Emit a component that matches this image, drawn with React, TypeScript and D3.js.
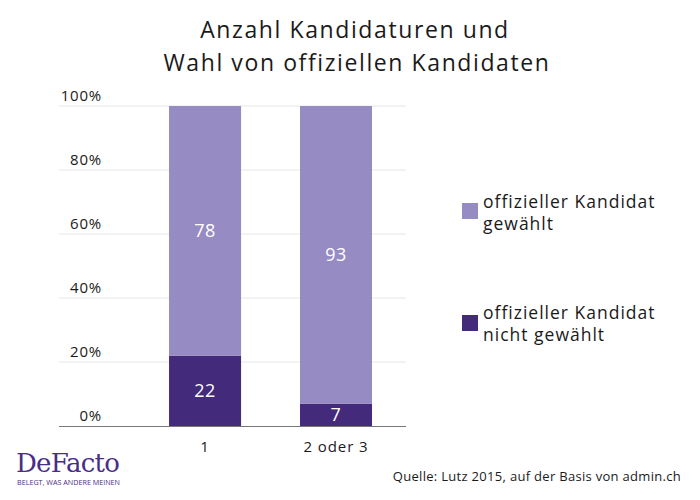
import React from "react";
import * as d3 from "d3";

const categories = ["1", "2 oder 3"];
const notElected = [22, 7];
const elected = [78, 93];
const seriesNames = ["offizieller Kandidat gewählt", "offizieller Kandidat nicht gewählt"];
const yTicks = [0, 20, 40, 60, 80, 100];

const W = 700;
const H = 500;
const LIGHT = "#968bc2";
const DARK = "#432a7a";
const FONT = "'Open Sans', 'Noto Sans', sans-serif";

export default function App() {
  const x = d3
    .scaleBand<string>()
    .domain(categories)
    .range([59, 406])
    .paddingInner(0.45)
    .paddingOuter(0.55)
    .align(0.764);
  const y = d3.scaleLinear().domain([0, 100]).range([426, 106]);

  const rows = categories.map((c, i) => ({ cat: c, low: notElected[i], high: elected[i] }));
  const stack = d3.stack<any>().keys(["low", "high"])(rows as any);

  return (
    <svg width={W} height={H} style={{ position: "absolute", left: 0, top: 0, background: "#fff" }}>
      <g fontFamily={FONT}>
        <text x={355} y={38} textAnchor="middle" fontSize={23} letterSpacing={1.6} fill="#1a1a1a">
          Anzahl Kandidaturen und
        </text>
        <text x={357} y={71} textAnchor="middle" fontSize={23} letterSpacing={1.6} fill="#1a1a1a">
          Wahl von offiziellen Kandidaten
        </text>

        {yTicks.map((t) => (
          <g key={t}>
            {t > 0 && (
              <line x1={59} x2={406} y1={y(t)} y2={y(t)} stroke="#e6e6e6" strokeWidth={1} />
            )}
            <text x={102} y={y(t) - 5} textAnchor="end" fontSize={15} letterSpacing={0.8} fill="#1a1a1a">
              {t}%
            </text>
          </g>
        ))}

        {stack.map((layer, li) =>
          layer.map((d, i) => {
            const cat = categories[i];
            const val = d[1] - d[0];
            return (
              <g key={`${li}-${i}`}>
                <rect
                  x={x(cat)}
                  width={x.bandwidth()}
                  y={y(d[1])}
                  height={y(d[0]) - y(d[1])}
                  fill={li === 0 ? DARK : LIGHT}
                />
                <text
                  x={(x(cat) as number) + x.bandwidth() / 2}
                  y={(y(d[0]) + y(d[1])) / 2}
                  dy="0.35em"
                  textAnchor="middle"
                  fontSize={18}
                  letterSpacing={0.5}
                  fill="#fff"
                >
                  {val}
                </text>
              </g>
            );
          })
        )}

        <line x1={59} x2={406} y1={426.5} y2={426.5} stroke="#777" strokeWidth={1} />

        {categories.map((c) => (
          <text
            key={c}
            x={(x(c) as number) + x.bandwidth() / 2}
            y={452}
            textAnchor="middle"
            fontSize={15}
            letterSpacing={0.9}
            fill="#1a1a1a"
          >
            {c}
          </text>
        ))}

        {/* Legend */}
        <rect x={462} y={203} width={16} height={16} fill={LIGHT} />
        <text x={483} y={208} fontSize={17.5} letterSpacing={1} fill="#1a1a1a">
          <tspan x={483}>offizieller Kandidat</tspan>
          <tspan x={483} dy={22}>gewählt</tspan>
        </text>
        <rect x={462} y={315} width={16} height={16} fill={DARK} />
        <text x={483} y={319} fontSize={17.5} letterSpacing={1} fill="#1a1a1a">
          <tspan x={483}>offizieller Kandidat</tspan>
          <tspan x={483} dy={22}>nicht gewählt</tspan>
        </text>

        <text x={681} y={481} textAnchor="end" fontSize={13} letterSpacing={0.3} fill="#1a1a1a">
          Quelle: Lutz 2015, auf der Basis von admin.ch
        </text>

        {/* Logo */}
        <text
          x={16}
          y={472}
          fontFamily="'DejaVu Serif', 'Liberation Serif', serif"
          fontSize={26}
          fill="#4a2d86"
          letterSpacing={-0.8}
        >
          DeFacto
        </text>
        <text x={17} y={485} fontSize={7.2} fill="#4a2d86" fontFamily={FONT} letterSpacing={0}>
          BELEGT, WAS ANDERE MEINEN
        </text>
      </g>
    </svg>
  );
}
